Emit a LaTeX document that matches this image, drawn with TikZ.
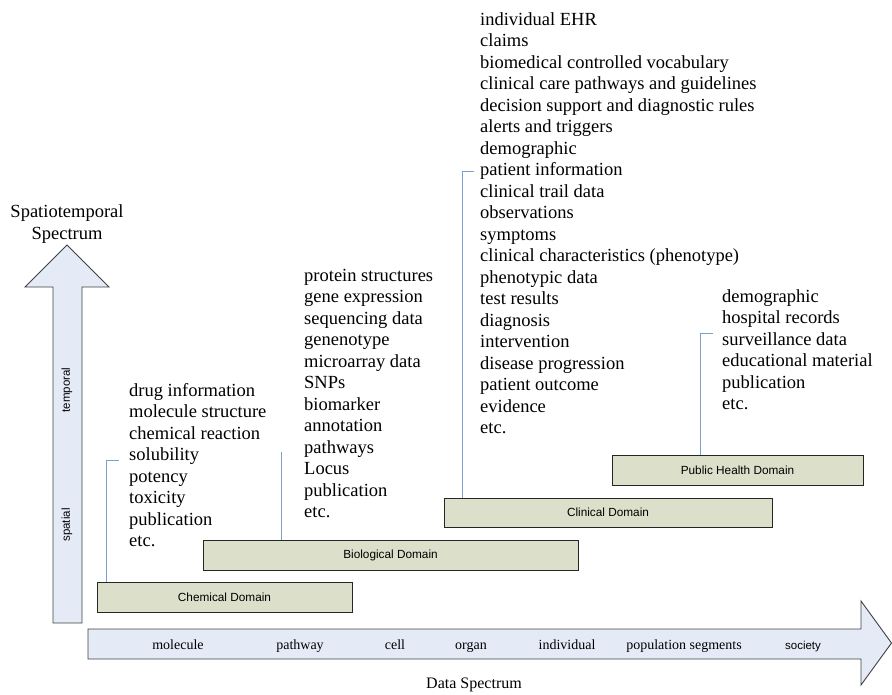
\documentclass[tikz,border=0pt]{standalone}
\usepackage{fontspec}
\setmainfont{Liberation Serif}
\setsansfont{Liberation Sans}
\definecolor{boxfill}{HTML}{DCDFC9}
\definecolor{arrfill}{HTML}{E5EBF6}
\definecolor{connc}{HTML}{7F9ED0}
\definecolor{arrline}{HTML}{404040}
\begin{document}
\begin{tikzpicture}[x=1pt,y=-1pt,
  domainbox/.style={draw=black!85, line width=1pt, fill=boxfill, inner sep=0pt,
    font=\sffamily\fontsize{11.8}{13}\selectfont},
  bigarrow/.style={draw=arrline, line width=0.9pt, fill=arrfill, line join=miter},
  conn/.style={draw=connc, line width=1pt},
  listtext/.style={anchor=north west, inner sep=0pt, align=left,
    font=\fontsize{18.5}{21.5}\selectfont},
  axislabel/.style={inner sep=0pt, anchor=base, font=\fontsize{14}{16}\selectfont},
  sidelabel/.style={inner sep=0pt, rotate=90, font=\sffamily\fontsize{11.5}{13}\selectfont},
  titletext/.style={inner sep=0pt, align=center, font=\fontsize{18.5}{21.5}\selectfont}]
\useasboundingbox (0,0) rectangle (892,694);
% vertical arrow
\path[bigarrow] (53,623) -- (53,287) -- (25,287) -- (67,245) -- (109,287) -- (82,287) -- (82,623) -- cycle;
% horizontal arrow
\path[bigarrow] (88,629) -- (861,629) -- (861,601) -- (891.5,643) -- (861,685) -- (861,659) -- (88,659) -- cycle;
\node[titletext] (st) at (67,224) {Spatiotemporal\\Spectrum};
\node[sidelabel] (temp) at (67,390) {temporal};
\node[sidelabel] (spat) at (67,525) {spatial};
% axis labels
\node[axislabel] (l1) at (178,649.5) {molecule};
\node[axislabel] (l2) at (300,649.5) {pathway};
\node[axislabel] (l3) at (395,649.5) {cell};
\node[axislabel] (l4) at (471,649.5) {organ};
\node[axislabel] (l5) at (567,649.5) {individual};
\node[axislabel] (l6) at (684,649.5) {population segments};
\node[inner sep=0pt, anchor=base, font=\sffamily\fontsize{11.5}{13}\selectfont] (l7) at (803,649.5) {society};
\node[inner sep=0pt, font=\fontsize{16}{18}\selectfont] (ds) at (474,685) {Data Spectrum};
% domain boxes
\node[domainbox, minimum width=255pt, minimum height=30pt] (chem) at (224.5,597) {Chemical Domain};
\node[domainbox, minimum width=375pt, minimum height=30pt] (bio) at (390.5,555) {Biological Domain};
\node[domainbox, minimum width=328pt, minimum height=29pt] (clin) at (608,512.5) {Clinical Domain};
\node[domainbox, minimum width=251pt, minimum height=30pt] (pub) at (737.5,470) {Public Health Domain};
% text lists
\node[listtext] (chemtxt) at (129,383) {drug information\\molecule structure\\chemical reaction\\solubility\\potency\\toxicity\\publication\\etc.};
\node[listtext] (biotxt) at (304,269) {protein structures\\gene expression\\sequencing data\\genenotype\\microarray data\\SNPs\\biomarker\\annotation\\pathways\\Locus\\publication\\etc.};
\node[listtext] (clintxt) at (480,12) {individual EHR\\claims\\biomedical controlled vocabulary\\clinical care pathways and guidelines\\decision support and diagnostic rules\\alerts and triggers\\demographic\\patient information\\clinical trail data\\observations\\symptoms\\clinical characteristics (phenotype)\\phenotypic data\\test results\\diagnosis\\intervention\\disease progression\\patient outcome\\evidence\\etc.};
\node[listtext] (pubtxt) at (722,289) {demographic\\hospital records\\surveillance data\\educational material\\publication\\etc.};
% connectors
\coordinate (chemT) at (106,460);
\coordinate (bioT) at (281,452);
\coordinate (clinT) at (462,171);
\coordinate (pubT) at (700,333);
\draw[conn] (chem.north -| chemT) -- (chemT) -- ++(13,0);
\draw[conn] (bio.north -| bioT) -- (bioT);
\draw[conn] (clin.north -| clinT) -- (clinT) -- ++(12,0);
\draw[conn] (pub.north -| pubT) -- (pubT) -- ++(13,0);
\end{tikzpicture}
\end{document}
